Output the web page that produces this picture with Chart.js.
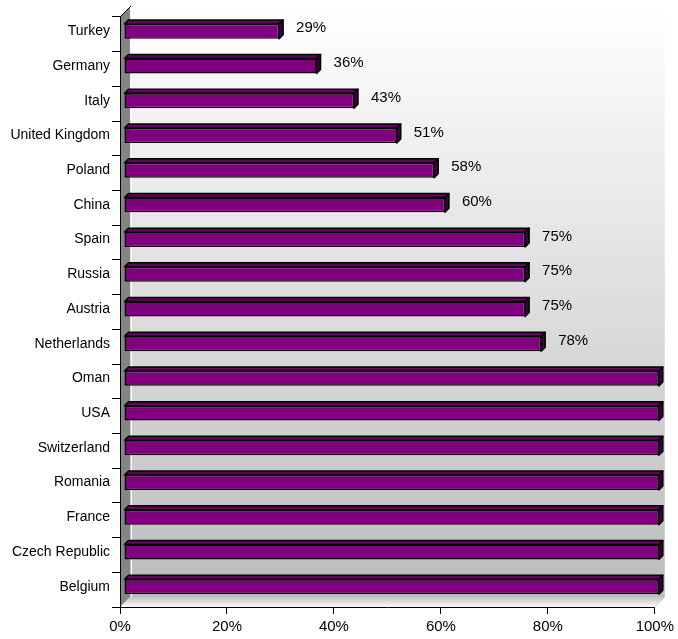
<!DOCTYPE html>
<html>
<head>
<meta charset="utf-8">
<title>Chart</title>
<script src="https://cdn.jsdelivr.net/npm/chart.js@4"></script>
<style>
  body { margin: 0; background: #ffffff; }
</style>
</head>
<body>
<canvas id="myChart" width="678" height="639"></canvas>
<script>
//==============DATA===============
const countries = ['Turkey', 'Germany', 'Italy', 'United Kingdom', 'Poland', 'China', 'Spain', 'Russia',
	'Austria', 'Netherlands', 'Oman', 'USA', 'Switzerland', 'Romania', 'France', 'Czech Republic', 'Belgium'];
const shares = [29, 36, 43, 51, 58, 60, 75, 75, 75, 78, 100, 100, 100, 100, 100, 100, 100];
const xTicks = [0, 20, 40, 60, 80, 100];

const depth = 10;   // wall depth
const barDepth = 4; // bar depth
const fontFamily = '"Liberation Sans", Arial, sans-serif';

//==============3D LOOK===============
const threeD = {
	id: 'threeD',
	beforeDraw(chart) {
		const ctx = chart.ctx;
		const a = chart.chartArea;
		ctx.save();
		// back wall
		let g = ctx.createLinearGradient(0, a.top - depth, 0, a.bottom - depth);
		g.addColorStop(0, '#ffffff');
		g.addColorStop(1, '#bcbcbc');
		ctx.fillStyle = g;
		ctx.fillRect(a.left + depth, a.top - depth, a.right - a.left, a.bottom - a.top);
		ctx.strokeStyle = '#ffffff';
		ctx.lineWidth = 1;
		ctx.beginPath();
		ctx.moveTo(a.left + depth + 1.5, a.top);
		ctx.lineTo(a.left + depth + 1.5, a.bottom - depth);
		ctx.stroke();
		// floor
		g = ctx.createLinearGradient(0, a.bottom - depth, 0, a.bottom);
		g.addColorStop(0, '#c4c4c4');
		g.addColorStop(1, '#fafafa');
		ctx.fillStyle = g;
		ctx.beginPath();
		ctx.moveTo(a.left, a.bottom);
		ctx.lineTo(a.right, a.bottom);
		ctx.lineTo(a.right + depth, a.bottom - depth);
		ctx.lineTo(a.left + depth, a.bottom - depth);
		ctx.closePath();
		ctx.fill();
		// left wall
		ctx.fillStyle = '#858585';
		ctx.beginPath();
		ctx.moveTo(a.left, a.top);
		ctx.lineTo(a.left + depth, a.top - depth);
		ctx.lineTo(a.left + depth, a.bottom - depth);
		ctx.lineTo(a.left, a.bottom);
		ctx.closePath();
		ctx.fill();
		ctx.strokeStyle = '#000000';
		ctx.beginPath();
		ctx.moveTo(a.left, a.top);
		ctx.lineTo(a.left + depth + 1, a.top - depth - 1);
		ctx.stroke();
		ctx.strokeStyle = '#d0d0d0';
		ctx.beginPath();
		ctx.moveTo(a.right, a.bottom);
		ctx.lineTo(a.right + depth, a.bottom - depth);
		ctx.stroke();
		ctx.restore();
	},
	beforeDatasetsDraw(chart) {
		chart.ctx.save();
		chart.ctx.translate(barDepth, -3);
	},
	afterDatasetsDraw(chart) {
		const ctx = chart.ctx;
		const bars = chart.getDatasetMeta(0).data;
		const d = barDepth;
		ctx.lineWidth = 1.5;
		ctx.strokeStyle = '#000000';
		ctx.lineJoin = 'round';
		bars.forEach(bar => {
			const top = bar.y - bar.height / 2;
			const bot = bar.y + bar.height / 2;
			// top face
			ctx.fillStyle = '#650065';
			ctx.beginPath();
			ctx.moveTo(bar.base, top);
			ctx.lineTo(bar.base + d, top - d);
			ctx.lineTo(bar.x + d, top - d);
			ctx.lineTo(bar.x, top);
			ctx.closePath();
			ctx.fill();
			ctx.stroke();
			// side face
			ctx.fillStyle = '#3c003c';
			ctx.beginPath();
			ctx.moveTo(bar.x, top);
			ctx.lineTo(bar.x + d, top - d);
			ctx.lineTo(bar.x + d, bot - d);
			ctx.lineTo(bar.x, bot);
			ctx.closePath();
			ctx.fill();
			ctx.stroke();
		});
		ctx.restore();

		// value labels
		ctx.save();
		ctx.font = '15px ' + fontFamily;
		ctx.fillStyle = '#000000';
		ctx.textAlign = 'left';
		ctx.textBaseline = 'middle';
		bars.forEach((bar, i) => {
			if (shares[i] < 100) {
				ctx.fillText(shares[i] + '%', bar.x + d + 17, bar.y - 6);
			}
		});
		ctx.restore();
	}
};

//==============CHART===============
const myChart = document.getElementById('myChart');

let barChart = new Chart(myChart, {
	type: 'bar',
	data: {
		labels: countries,
		datasets: [{
			data: shares,
			backgroundColor: '#800080',
			borderColor: '#000000',
			borderWidth: 1.5,
			borderSkipped: false,
			barPercentage: 0.43,
			categoryPercentage: 1
		}]
	},
	options: {
		indexAxis: 'y',
		responsive: false,
		animation: false,
		layout: {
			padding: {top: 17, right: 22, left: 0, bottom: 0}
		},
		plugins: {
			legend: {display: false},
			tooltip: {enabled: false}
		},
		scales: {
			x: {
				min: 0,
				max: 100,
				afterFit: scale => { scale.height = 32; },
				afterBuildTicks: scale => { scale.ticks = xTicks.map(v => ({value: v})); },
				border: {display: true, color: '#000000', width: 1},
				grid: {drawOnChartArea: false, drawTicks: true, tickLength: 7, color: '#000000'},
				ticks: {
					padding: 4,
					color: '#000000',
					maxRotation: 0,
					font: {family: fontFamily, size: 15},
					callback: v => v + '%'
				}
			},
			y: {
				afterFit: scale => { scale.width = 120; },
				border: {display: true, color: '#000000', width: 1},
				grid: {drawOnChartArea: false, drawTicks: true, tickLength: 8, color: '#000000', offset: true},
				ticks: {
					padding: 2,
					labelOffset: -3,
					color: '#000000',
					font: {family: fontFamily, size: 14}
				}
			}
		}
	},
	plugins: [threeD]
});
</script>
</body>
</html>
